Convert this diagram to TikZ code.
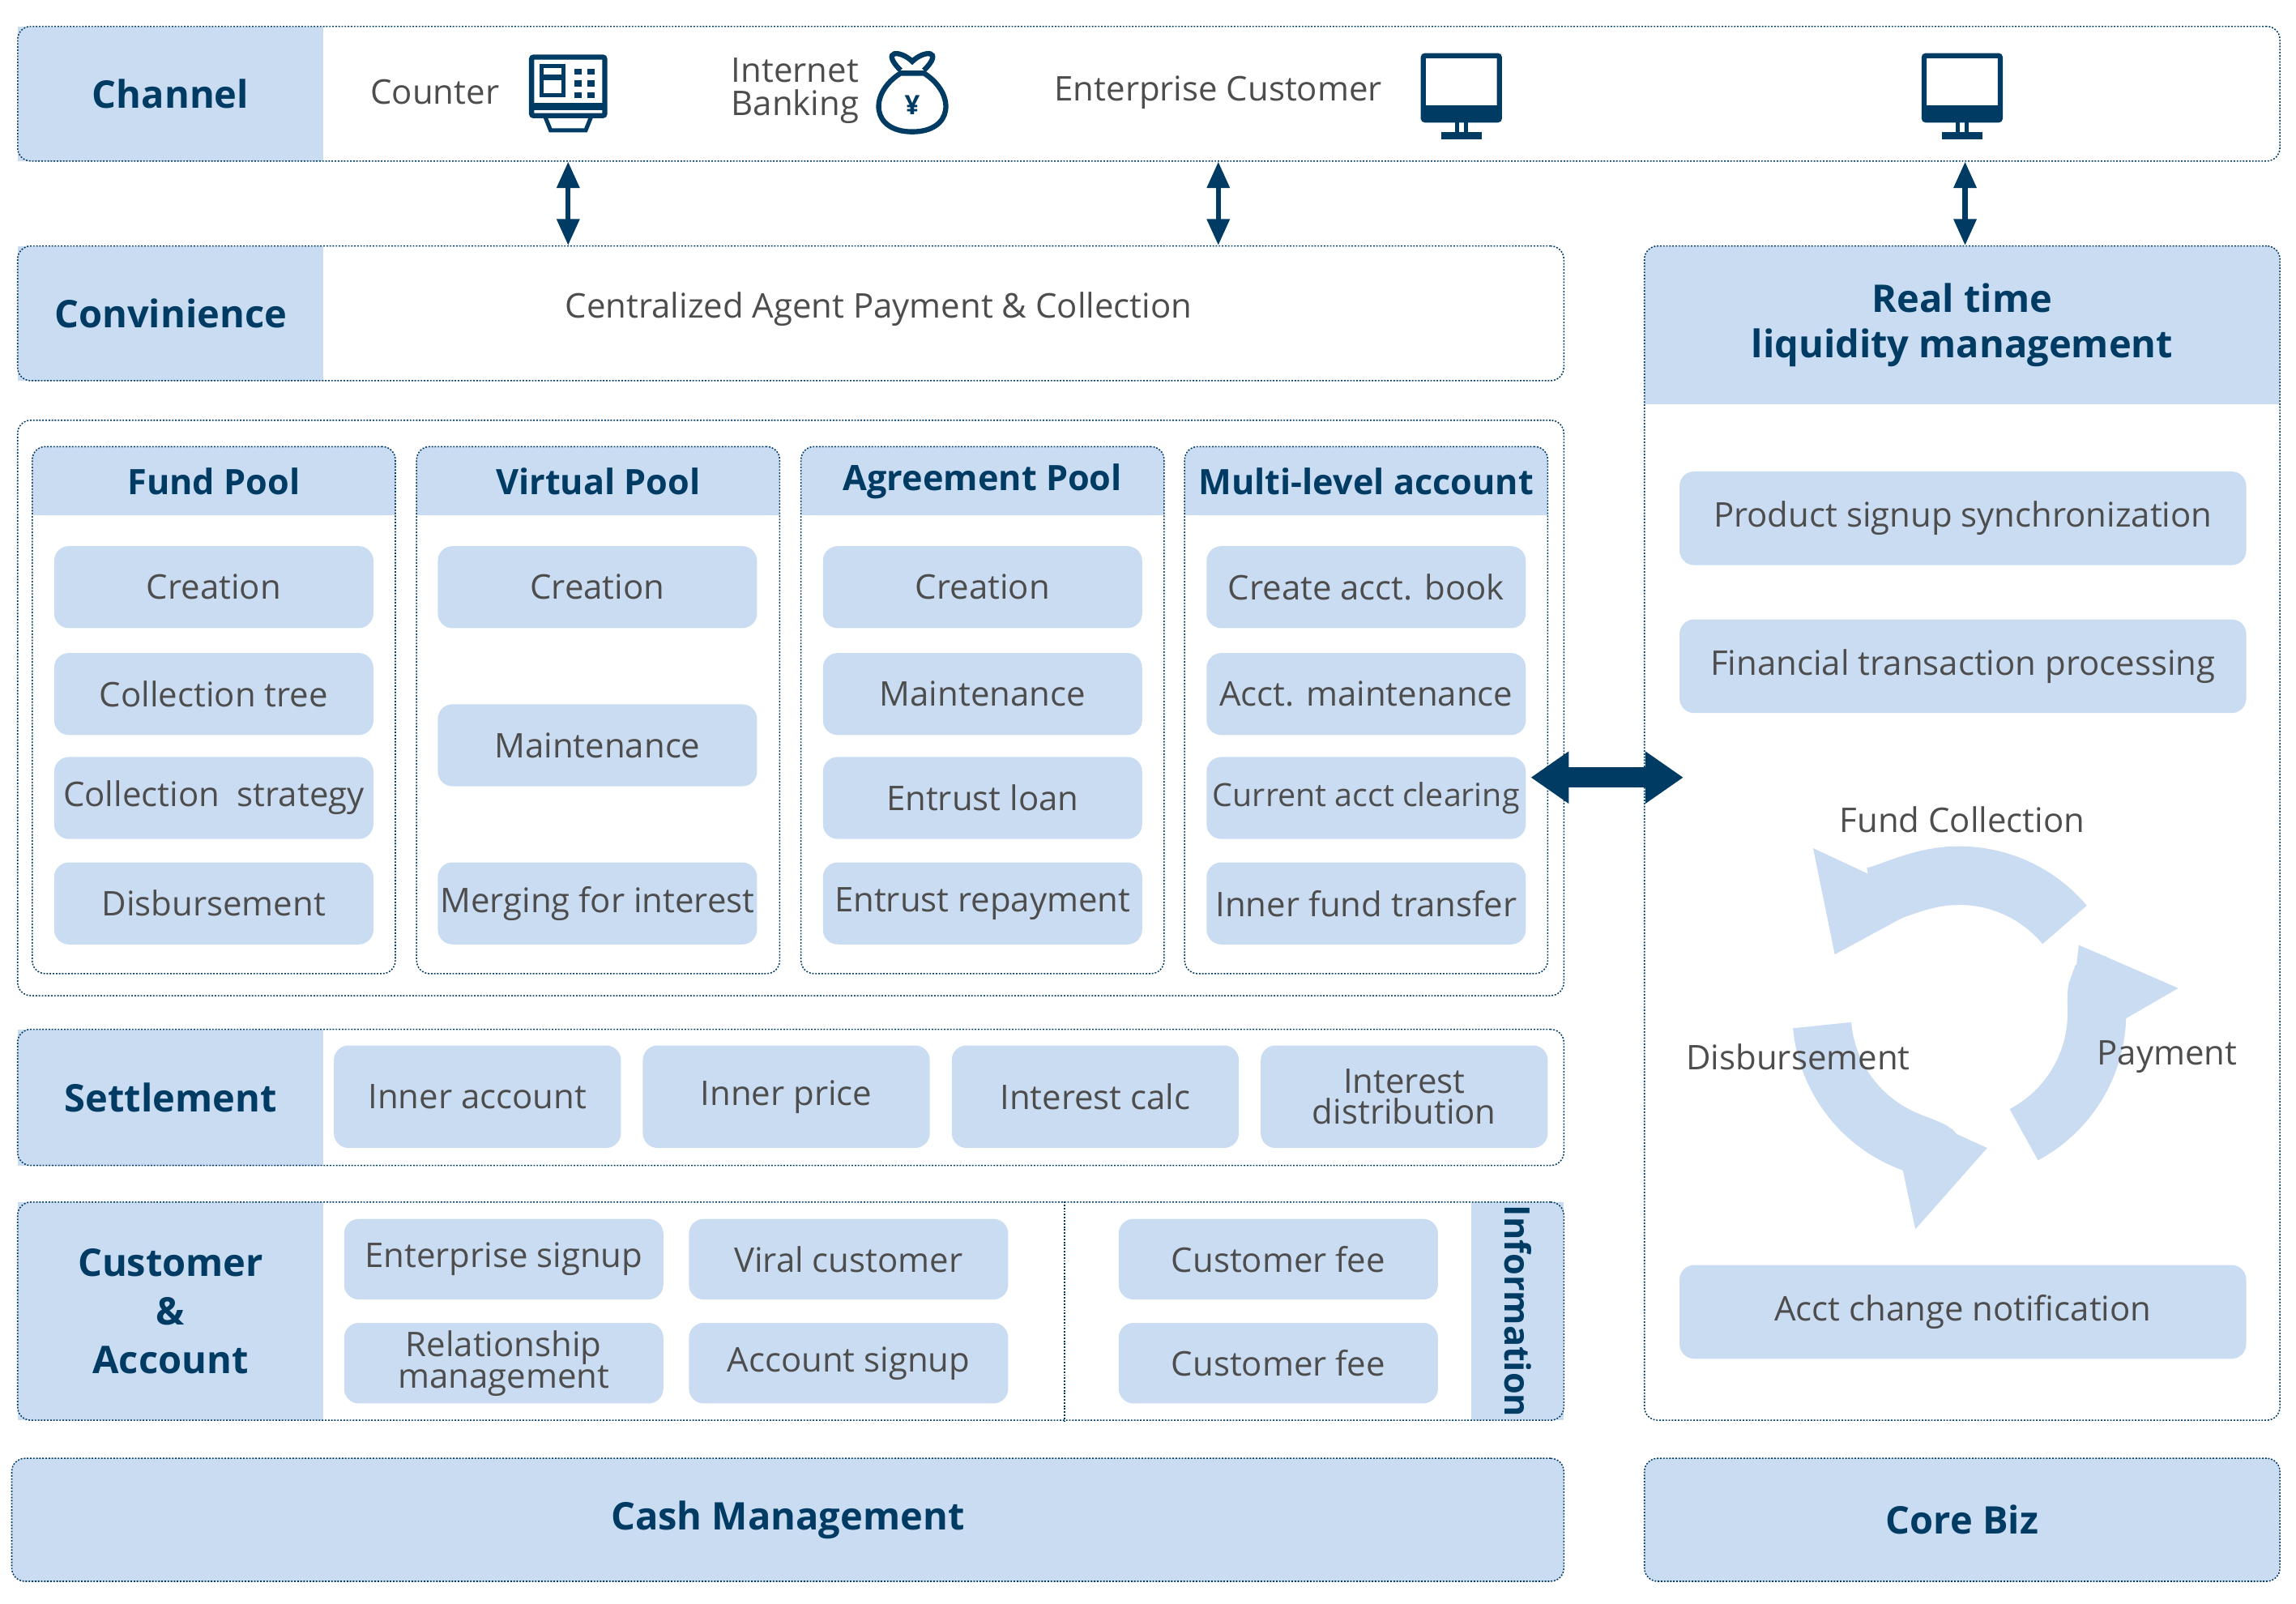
\documentclass[tikz,border=0pt]{standalone}
\usepackage{fontspec}
\setmainfont{Open Sans}
\usetikzlibrary{arrows.meta, positioning}
\definecolor{navy}{HTML}{003B64}
\definecolor{lb}{HTML}{CADCF2}
\definecolor{txt}{HTML}{4D4D4D}
\tikzstyle{frame} = [draw=navy, line width=1.2pt, dash pattern=on 1.5pt off 1.5pt, rounded corners=0.45cm, inner sep=0pt]
\tikzstyle{label} = [fill=lb, inner sep=0pt, text=navy, font=\fontsize{37}{44}\selectfont\bfseries, align=center]
\tikzstyle{item} = [fill=lb, rounded corners=0.5cm, inner sep=0pt, text=txt, font=\fontsize{33}{33}\selectfont, align=center, minimum width=10.9cm, minimum height=2.8cm]
\tikzstyle{plain} = [text=txt, font=\fontsize{33}{38}\selectfont, align=center]
\tikzstyle{arrow} = [navy, line width=5pt, {Triangle[length=0.9cm,width=0.75cm]}-{Triangle[length=0.9cm,width=0.75cm]}]
\tikzset{
  monitor/.pic = {
    \draw[navy, line width=5pt, rounded corners=2pt] (-26,-24) rectangle (26,20);
    \fill[navy] (-26,10) rectangle (26,18);
    \fill[navy] (-2,14) rectangle (2,16);
    \draw[navy, line width=4pt] (-3,20) -- (-3,30) (3,20) -- (3,30);
    \fill[navy] (-14,28) rectangle (14,33);
  },
  counter/.pic = {
    \draw[navy, line width=5pt, rounded corners=2pt] (-25,-24) rectangle (25,16);
    \draw[navy, line width=4pt] (-18,-18) rectangle (-3,2);
    \fill[navy] (-18,-12) rectangle (-3,-8);
    \foreach \yy in {-16,-8,0} {\fill[navy] (4,\yy) rectangle (9,\yy+4); \fill[navy] (13,\yy) rectangle (18,\yy+4);}
    \fill[navy] (-25,7) rectangle (25,12);
    \draw[navy, line width=4pt] (-16,16) -- (-12,26) -- (12,26) -- (16,16);
  },
  moneybag/.pic = {
    \draw[navy, line width=5pt] (-8,-16) .. controls (-22,-30) and (-8,-30) .. (0,-22) .. controls (8,-30) and (22,-30) .. (8,-16);
    \draw[navy, line width=5pt] (-8,-14) .. controls (-30,0) and (-28,26) .. (0,26) .. controls (28,26) and (30,0) .. (8,-14) -- cycle;
    \node[navy, font=\fontsize{26}{26}\selectfont\bfseries] (yen) at (0,8) {¥};
  }
}
\begin{document}
\begin{tikzpicture}[x=0.05cm, y=-0.05cm]
\useasboundingbox (0,0) rectangle (1568,1095);
%----------------------------------------------------------------------------
% Channel
\node (channelLabel) [label, minimum width=10.45cm, minimum height=4.6cm] at (116.5,64) {Channel};
\node (channelFrame) [frame, minimum width=77.25cm, minimum height=4.6cm] at (784.5,64) {};
\node (counterText) [plain] at (297,63) {Counter};
\pic at (388,63) {counter};
\coordinate (counterIcon) at (388,63);
\node (bankingText) [plain, font=\fontsize{33}{32}\selectfont] at (543,62) {Internet\\Banking};
\pic at (623,64) {moneybag};
\node (enterpriseText) [plain] at (832,63) {Enterprise Customer};
\coordinate (enterpriseArrow) at (832,63);
\pic at (998,62) {monitor};
\pic at (1340,62) {monitor};
\coordinate (coreIcon) at (1342,62);

%----------------------------------------------------------------------------
% Convinience
\node (convLabel) [label, minimum width=10.45cm, minimum height=4.6cm] at (116.5,214) {Convinience};
\node (convFrame) [frame, minimum width=52.8cm, minimum height=4.6cm] at (540,214) {};
\node (convText) [plain] at (600,211) {Centralized Agent Payment \& Collection};

%----------------------------------------------------------------------------
% Real time liquidity management
\fill[lb] (1123,240) rectangle (1557,276);
\node (rtHeader) [label, minimum width=21.7cm, minimum height=5.4cm, rounded corners=0.45cm] at (1340,222) {Real time\\ liquidity management};
\node (rtFrame) [frame, minimum width=21.7cm, minimum height=40.1cm] at (1340,569) {};
\node (rtSignup) [item, minimum width=19.35cm, minimum height=3.2cm] at (1340.5,354) {Product signup synchronization};
\node (rtFinance) [item, minimum width=19.35cm, minimum height=3.2cm] at (1340.5,455) {Financial transaction processing};
\node (rtNotify) [item, minimum width=19.35cm, minimum height=3.2cm] at (1340.5,896) {Acct change notification};

% cycle
\coordinate (cycleCenter) at (1338,692);
\begin{scope}[lb, line width=2cm, -{Triangle[length=3cm,width=4.2cm]}]
  \draw ([shift={(40:4.7cm)}]cycleCenter) arc (40:155:4.7cm);
  \draw ([shift={(185:4.7cm)}]cycleCenter) arc (185:282:4.7cm);
  \draw ([shift={(298:4.7cm)}]cycleCenter) arc (298:390:4.7cm);
\end{scope}
\node (fundCollection) [plain] at (1340,560) {Fund Collection};
\node (cycleDisb) [plain] at (1228,722) {Disbursement};
\node (cyclePay) [plain] at (1480,722) {Payment};

%----------------------------------------------------------------------------
% Pools
\node (poolFrame) [frame, minimum width=52.8cm, minimum height=19.65cm] at (540,483.5) {};
\foreach \px/\nm/\ttl in {146/fund/Fund Pool, 408.5/virtual/Virtual Pool, 671/agreement/Agreement Pool, 933/multi/Multi-level account} {
  \fill[lb, rounded corners=0.45cm] (\px-124,305) rectangle (\px+124,352);
  \fill[lb] (\px-124,330) rectangle (\px+124,352);
  \node (\nm Title) [text=navy, font=\fontsize{34}{34}\selectfont\bfseries] at (\px,329) {\ttl};
  \node (\nm Frame) [frame, minimum width=12.4cm, minimum height=18cm] at (\px,485) {};
}
\node (fundCreate) [item] at (146,401) {Creation};
\node (fundTree) [item] at (146,474) {Collection tree};
\node (fundStrategy) [item] at (146,545) {Collection~ strategy};
\node (fundDisb) [item] at (146,617) {Disbursement};
\node (virtualCreate) [item] at (408,401) {Creation};
\node (virtualMaint) [item] at (408,509) {Maintenance};
\node (virtualMerge) [item] at (408,617) {Merging for interest};
\node (agreeCreate) [item] at (671,401) {Creation};
\node (agreeMaint) [item] at (671,474) {Maintenance};
\node (agreeLoan) [item] at (671,545) {Entrust loan};
\node (agreeRepay) [item] at (671,617) {Entrust repayment};
\node (multiBook) [item] at (933,401) {Create acct. book};
\node (multiMaint) [item] at (933,474) {Acct. maintenance};
\node (multiClear) [item, font=\fontsize{31}{31}\selectfont] at (933,545) {Current acct clearing};
\node (multiTransfer) [item] at (933,617) {Inner fund transfer};

%----------------------------------------------------------------------------
% Settlement
\node (settleLabel) [label, minimum width=10.45cm, minimum height=4.65cm] at (116.5,749.5) {Settlement};
\node (settleFrame) [frame, minimum width=52.8cm, minimum height=4.65cm] at (540,749.5) {};
\node (innerAccount) [item, minimum width=9.8cm, minimum height=3.5cm] at (326,749) {Inner account};
\node (innerPrice) [item, minimum width=9.8cm, minimum height=3.5cm] at (537,749) {Inner price};
\node (interestCalc) [item, minimum width=9.8cm, minimum height=3.5cm] at (748,749) {Interest calc};
\node (interestDist) [item, minimum width=9.8cm, minimum height=3.5cm, font=\fontsize{33}{30}\selectfont] at (959,749) {Interest\\ distribution};

%----------------------------------------------------------------------------
% Customer & Account
\node (custLabel) [label, minimum width=10.45cm, minimum height=7.45cm, font=\fontsize{37}{47}\selectfont\bfseries] at (116.5,895.5) {Customer\\ \&\\ Account};
\node (infoStrip) [label, minimum width=3.15cm, minimum height=7.45cm] at (1036.5,895.5) {};
\node (infoText) [text=navy, font=\fontsize{34}{34}\selectfont\bfseries, rotate=-90] at (1036.5,895.5) {Information};
\node (custFrame) [frame, minimum width=52.8cm, minimum height=7.45cm] at (540,895.5) {};
\draw[navy, line width=1.2pt, dash pattern=on 1.5pt off 1.5pt] (custFrame.north -| 727,0) -- (custFrame.south -| 727,0);
\node (entSignup) [item, minimum height=2.75cm] at (344,860) {Enterprise signup};
\node (relMgmt) [item, minimum height=2.75cm, font=\fontsize{33}{27}\selectfont] at (344,931) {Relationship\\ management};
\node (viralCust) [item, minimum height=2.75cm] at (579.5,860) {Viral customer};
\node (acctSignup) [item, minimum height=2.75cm] at (579.5,931) {Account signup};
\node (custFeeA) [item, minimum height=2.75cm] at (873,860) {Customer fee};
\node (custFeeB) [item, minimum height=2.75cm] at (873,931) {Customer fee};

%----------------------------------------------------------------------------
% Bottom bars
\node (cashMgmt) [frame, fill=lb, text=navy, font=\fontsize{37}{37}\selectfont\bfseries, minimum width=53cm, minimum height=4.2cm] at (538,1038) {Cash Management};
\node (coreBiz) [frame, fill=lb, text=navy, font=\fontsize{37}{37}\selectfont\bfseries, minimum width=21.7cm, minimum height=4.2cm] at (1340,1038) {Core Biz};

%----------------------------------------------------------------------------
% Lines
\draw [arrow] (channelFrame.south -| counterIcon) -- (convFrame.north -| counterIcon);
\draw [arrow] (channelFrame.south -| enterpriseArrow) -- (convFrame.north -| enterpriseArrow);
\draw [arrow] (channelFrame.south -| coreIcon) -- (rtFrame.north -| coreIcon);
\coordinate (bigArrowY) at (0,531);
\draw [navy, line width=0.7cm, shorten <=-0.6cm, shorten >=-1.35cm, {Triangle[length=1.3cm,width=1.7cm]}-{Triangle[length=1.3cm,width=1.7cm]}] (multiFrame.east |- bigArrowY) -- (rtFrame.west |- bigArrowY);
\end{tikzpicture}
\end{document}
